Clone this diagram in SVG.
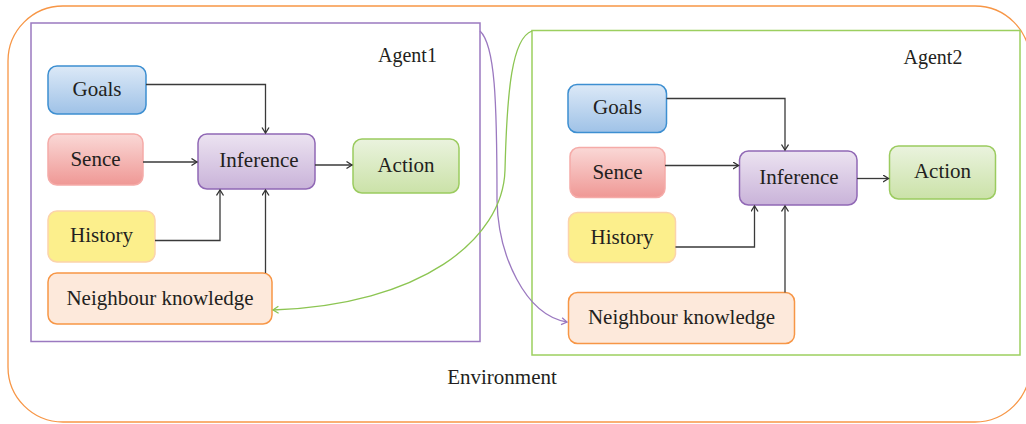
<svg xmlns="http://www.w3.org/2000/svg" width="1026" height="424" viewBox="0 0 1026 424">
<defs>
<linearGradient id="gGoals" x1="0" y1="0" x2="0" y2="1"><stop offset="0" stop-color="#dce9f7"/><stop offset="1" stop-color="#9fc2e7"/></linearGradient>
<linearGradient id="gSence" x1="0" y1="0" x2="0" y2="1"><stop offset="0" stop-color="#fad8d6"/><stop offset="1" stop-color="#ef9895"/></linearGradient>
<linearGradient id="gInf" x1="0" y1="0" x2="0" y2="1"><stop offset="0" stop-color="#ece3f1"/><stop offset="1" stop-color="#c9b3d9"/></linearGradient>
<linearGradient id="gAct" x1="0" y1="0" x2="0" y2="1"><stop offset="0" stop-color="#eaf3de"/><stop offset="1" stop-color="#cbe2a8"/></linearGradient>
<marker id="ah" markerUnits="userSpaceOnUse" markerWidth="10" markerHeight="10" refX="6" refY="4" orient="auto"><path d="M0.5,0.5 L6,4 L0.5,7.5" fill="none" stroke="#333" stroke-width="1.3"/></marker>
<marker id="ahp" markerUnits="userSpaceOnUse" markerWidth="10" markerHeight="10" refX="6" refY="4" orient="auto"><path d="M0.5,0.5 L6,4 L0.5,7.5" fill="none" stroke="#9b79c0" stroke-width="1.3"/></marker>
<marker id="ahg" markerUnits="userSpaceOnUse" markerWidth="10" markerHeight="10" refX="6" refY="4" orient="auto"><path d="M0.5,0.5 L6,4 L0.5,7.5" fill="none" stroke="#8cc552" stroke-width="1.3"/></marker>
</defs>
<style>
text{font-family:"Liberation Serif","DejaVu Serif",serif;fill:#231f20;font-size:21px;text-anchor:middle}
.lbl{font-size:20px;text-anchor:start}
.goals{fill:url(#gGoals);stroke:#3d8fd1;stroke-width:1.5}
.sence{fill:url(#gSence);stroke:#f5aba8;stroke-width:1.5}
.inf{fill:url(#gInf);stroke:#9068b5;stroke-width:1.5}
.act{fill:url(#gAct);stroke:#9bcb5f;stroke-width:1.5}
.hist{fill:#fcef8c;stroke:#fbd3aa;stroke-width:1.5}
.nk{fill:#fde9db;stroke:#f79646;stroke-width:1.5}
.c{fill:none;stroke:#3a3a3a;stroke-width:1.3;marker-end:url(#ah)}
</style>
<rect width="1026" height="424" fill="#ffffff"/>
<g id="environment">
<rect x="8" y="6" width="1022" height="416" rx="55" fill="none" stroke="#f79646" stroke-width="1.3"/>
<text x="502" y="384">Environment</text>
</g>
<g id="agent1">
<rect x="31" y="23" width="449" height="318.5" fill="none" stroke="#9b79c0" stroke-width="1.5"/>
<text class="lbl" x="378" y="62">Agent1</text>
</g>
<g id="agent2">
<rect x="532" y="30.5" width="488" height="324.5" fill="none" stroke="#9ccf5f" stroke-width="1.5"/>
<text class="lbl" x="903.5" y="64">Agent2</text>
</g>
<g id="a1-goals"><rect class="goals" x="48" y="66" width="98" height="48" rx="9"/><text x="97" y="96">Goals</text></g>
<g id="a1-sence"><rect class="sence" x="48" y="134" width="95" height="51" rx="9"/><text x="95.5" y="165.5">Sence</text></g>
<g id="a1-inference"><rect class="inf" x="198" y="134" width="117" height="55" rx="9"/><text x="259" y="167">Inference</text></g>
<g id="a1-action"><rect class="act" x="353" y="139" width="106" height="54" rx="9"/><text x="406" y="171.5">Action</text></g>
<g id="a1-history"><rect class="hist" x="48" y="211" width="107" height="51" rx="9"/><text x="101.5" y="241.5">History</text></g>
<g id="a1-neighbour"><rect class="nk" x="48" y="273" width="224" height="51" rx="9"/><text x="160" y="304.5">Neighbour knowledge</text></g>
<g id="a2-goals"><rect class="goals" x="568" y="84.5" width="98.5" height="48" rx="9"/><text x="617.5" y="114">Goals</text></g>
<g id="a2-sence"><rect class="sence" x="570" y="147.5" width="95" height="50" rx="9"/><text x="617.5" y="178.5">Sence</text></g>
<g id="a2-inference"><rect class="inf" x="739.5" y="151" width="117.5" height="54" rx="9"/><text x="799" y="183.5">Inference</text></g>
<g id="a2-action"><rect class="act" x="889.5" y="146" width="106" height="53" rx="9"/><text x="942.5" y="178">Action</text></g>
<g id="a2-history"><rect class="hist" x="568.5" y="212.5" width="107" height="50" rx="9"/><text x="622" y="243.5">History</text></g>
<g id="a2-neighbour"><rect class="nk" x="568.5" y="292.5" width="226" height="51" rx="9"/><text x="681.5" y="323.5">Neighbour knowledge</text></g>
<g id="connectors">
<path class="c" d="M146,84.5 H265.5 V133"/>
<path class="c" d="M143,162 H197"/>
<path class="c" d="M315,165 H352"/>
<path class="c" d="M155,240.5 H220 V190"/>
<path class="c" d="M265.5,273 V190"/>
<path class="c" d="M666.5,98.5 H785 V150"/>
<path class="c" d="M665,165.5 H738.5"/>
<path class="c" d="M857,178.5 H888.5"/>
<path class="c" d="M675.5,247 H754.5 V206"/>
<path class="c" d="M785,292.5 V206"/>
<path d="M480,31 C495,45 497,100 497,200 C498,255 525,315 567,322" fill="none" stroke="#9b79c0" stroke-width="1.3" marker-end="url(#ahp)"/>
<path d="M532,31 C512,38 507,90 505,170 C503,240 420,305 273,310" fill="none" stroke="#8cc552" stroke-width="1.3" marker-end="url(#ahg)"/>
</g>
</svg>
